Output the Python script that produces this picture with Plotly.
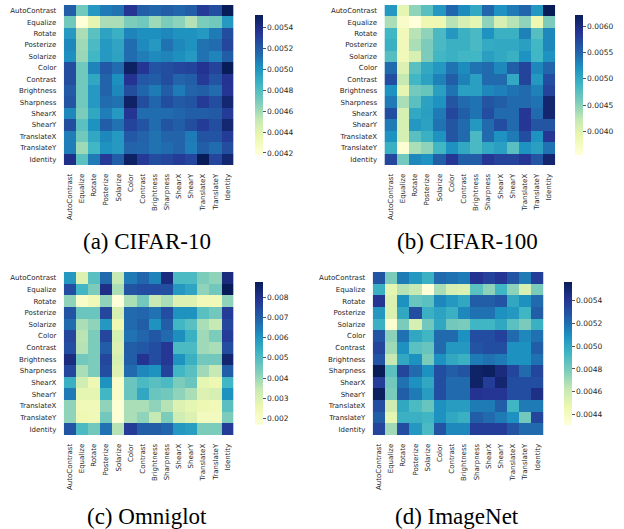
import plotly.graph_objects as go

labels = ["AutoContrast", "Equalize", "Rotate", "Posterize", "Solarize", "Color", "Contrast",
          "Brightness", "Sharpness", "ShearX", "ShearY", "TranslateX", "TranslateY", "Identity"]

# values in units of 1e-3
cifar10 = [
    [5.19,4.72,4.98,5.09,5.12,5.35,5.19,5.16,5.19,5.16,5.19,5.32,5.25,5.52],
    [4.72,4.18,4.38,4.58,4.58,4.69,4.72,4.61,4.69,4.65,4.56,4.69,4.72,4.98],
    [4.98,4.58,4.78,4.94,4.88,5.06,5.02,5.02,5.05,5.01,5.01,4.98,5.09,5.25],
    [5.05,4.61,4.82,4.98,4.93,5.14,5.04,4.98,5.12,5.05,5.01,5.12,5.14,5.28],
    [5.02,4.62,4.85,4.98,4.94,5.14,5.08,5.04,5.06,5.02,4.98,5.12,5.06,5.19],
    [5.25,4.72,5.06,5.21,5.14,5.49,5.35,5.23,5.25,5.28,5.29,5.36,5.29,5.52],
    [5.25,4.72,4.92,5.17,5.02,5.36,5.21,5.19,5.25,5.17,5.19,5.33,5.23,5.36],
    [5.20,4.72,4.98,5.17,5.05,5.25,5.16,5.09,5.19,5.09,5.17,5.19,5.14,5.35],
    [5.23,4.72,4.98,5.14,5.12,5.48,5.25,5.16,5.25,5.20,5.23,5.33,5.25,5.45],
    [5.05,4.69,4.92,5.08,4.98,5.35,5.14,5.14,5.14,5.16,5.19,5.19,5.20,5.32],
    [5.25,4.78,5.01,5.19,5.12,5.29,5.23,5.14,5.23,5.19,5.25,5.32,5.25,5.45],
    [5.08,4.72,4.92,5.05,4.98,5.21,5.17,5.12,5.17,5.17,5.09,5.23,5.23,5.32],
    [5.08,4.61,4.85,5.01,4.98,5.17,5.16,5.12,5.14,5.17,5.08,5.19,5.14,5.25],
    [5.39,4.78,5.09,5.33,5.19,5.49,5.33,5.25,5.28,5.32,5.28,5.52,5.28,5.45],
]

cifar100 = [
    [5.15,3.95,4.48,4.75,5.15,5.49,5.25,5.01,5.49,5.20,5.36,5.49,5.15,6.21],
    [4.35,3.68,3.55,3.87,3.87,4.29,4.08,3.95,4.48,4.08,4.29,4.48,3.87,4.56],
    [4.88,3.82,4.29,4.48,4.83,5.15,4.93,4.83,5.20,4.93,4.93,5.31,4.77,5.28],
    [4.93,3.82,4.35,4.56,4.83,4.93,4.93,4.83,4.99,5.01,5.01,5.09,4.88,5.28],
    [4.77,3.82,4.08,4.56,4.88,4.93,4.88,4.88,5.09,5.01,4.93,5.20,4.88,5.20],
    [5.47,4.03,4.75,5.01,5.15,5.41,5.25,5.41,5.47,5.28,5.55,5.76,5.28,5.49],
    [5.68,4.22,4.88,5.07,5.31,5.55,5.31,5.09,5.47,5.47,5.01,5.76,5.15,5.68],
    [5.20,3.95,4.61,4.67,5.09,5.41,5.09,5.09,5.28,5.33,5.41,5.47,5.31,5.76],
    [5.36,4.35,4.75,5.07,5.20,5.62,5.47,5.41,5.62,5.55,5.47,5.47,5.41,6.08],
    [5.68,4.08,5.01,5.09,5.36,5.73,5.55,5.41,5.68,5.47,5.47,5.86,5.47,6.08],
    [5.36,4.08,5.15,5.07,5.41,5.62,5.47,5.15,5.47,5.68,5.47,5.86,5.62,5.62],
    [5.20,4.08,4.75,4.93,5.20,5.62,5.47,4.83,5.47,5.20,5.36,5.68,5.20,5.86],
    [4.93,3.60,4.35,4.48,4.88,5.20,5.01,4.83,5.01,5.09,4.75,5.20,5.09,5.41],
    [5.73,4.61,5.28,5.20,5.55,5.86,5.55,5.55,5.86,5.76,5.76,5.86,5.62,6.08],
]

omniglot = [
    [5.92,2.95,4.86,6.77,3.45,6.49,6.84,6.35,8.18,5.07,5.07,4.37,4.15,8.18],
    [7.34,5.22,4.37,8.04,3.80,7.19,7.34,7.34,7.34,5.92,5.64,4.15,4.51,8.75],
    [4.15,2.03,2.39,4.15,1.68,3.80,4.51,3.45,3.80,2.95,2.95,2.39,2.39,4.15],
    [7.19,4.65,4.65,7.48,3.09,6.77,6.84,6.63,7.34,6.06,6.06,4.86,4.51,7.69],
    [6.77,3.80,4.15,5.92,2.53,6.77,6.98,6.06,6.98,5.22,4.86,3.80,3.45,7.48],
    [7.48,3.59,4.37,7.48,3.09,6.63,6.84,7.12,6.77,6.13,5.36,3.94,4.37,7.69],
    [7.34,3.66,4.37,6.98,2.95,6.98,7.12,7.34,7.83,5.07,5.07,3.94,3.80,7.34],
    [8.18,4.51,4.37,7.48,3.09,6.98,7.90,7.34,7.83,6.06,5.36,4.51,4.51,8.40],
    [7.48,3.80,4.37,7.34,2.95,6.77,6.28,6.06,7.55,5.22,4.86,3.94,3.45,6.98],
    [5.36,3.24,2.53,6.06,2.03,4.65,5.07,4.86,5.07,4.37,4.65,2.74,2.53,5.22],
    [6.49,2.74,2.74,5.22,2.03,4.65,5.57,4.65,4.51,4.15,3.80,2.95,3.09,6.06],
    [4.15,2.39,2.39,4.15,1.82,3.80,3.80,4.15,3.66,2.95,2.74,2.53,2.39,4.86],
    [4.15,2.53,2.39,4.51,1.82,3.80,4.15,3.45,4.37,3.24,2.95,2.25,2.25,4.37],
    [7.19,5.07,4.51,6.63,3.66,7.69,6.98,6.98,6.84,5.92,5.78,4.37,4.37,7.69],
]

imagenet = [
    [5.29,4.79,5.16,5.06,4.96,5.21,5.19,5.16,5.41,5.35,5.40,5.29,5.16,5.37],
    [4.96,4.50,4.66,4.62,4.31,4.69,4.56,4.54,4.87,4.75,4.94,4.75,4.56,4.79],
    [5.40,4.54,5.09,4.84,4.87,5.12,5.06,5.00,5.25,5.25,5.29,5.00,5.09,5.21],
    [5.06,4.54,5.00,5.31,4.96,5.02,4.96,5.12,5.19,5.19,5.09,5.06,4.94,5.25],
    [4.96,4.34,4.79,4.56,4.81,5.00,4.81,4.79,4.94,4.94,5.00,4.87,4.79,4.96],
    [5.29,4.75,5.19,5.00,4.94,5.21,5.21,5.09,5.31,5.31,5.35,5.21,5.12,5.19],
    [5.34,4.71,5.09,4.87,4.84,5.21,5.06,5.06,5.29,5.31,5.31,5.09,5.09,5.25],
    [5.29,4.62,5.00,5.09,4.79,5.09,5.00,4.96,5.16,5.19,5.16,5.09,5.09,5.19],
    [5.56,4.87,5.34,5.21,5.09,5.31,5.25,5.29,5.52,5.54,5.46,5.34,5.21,5.34],
    [5.37,4.81,5.19,5.09,5.00,5.31,5.21,5.21,5.52,5.37,5.50,5.31,5.31,5.31],
    [5.54,4.79,5.25,5.16,5.04,5.31,5.21,5.21,5.41,5.40,5.40,5.31,5.31,5.44],
    [5.31,4.59,5.00,4.91,4.84,5.09,5.04,5.04,5.16,5.16,5.25,4.94,5.16,5.16],
    [5.25,4.50,4.96,4.96,4.94,5.09,5.00,4.96,5.25,5.21,5.16,5.09,4.81,5.34],
    [5.34,4.71,5.31,5.06,4.91,5.29,5.12,5.12,5.37,5.37,5.37,5.29,5.21,5.21],
]

captions = ["(a) CIFAR-10", "(b) CIFAR-100", "(c) Omniglot", "(d) ImageNet"]
ranges = [(4.18, 5.52), (3.55, 6.21), (1.68, 8.75), (4.31, 5.56)]
cbar_ticks = [
    [0.0042, 0.0044, 0.0046, 0.0048, 0.0050, 0.0052, 0.0054],
    [0.0040, 0.0045, 0.0050, 0.0055, 0.0060],
    [0.002, 0.003, 0.004, 0.005, 0.006, 0.007, 0.008],
    [0.0044, 0.0046, 0.0048, 0.0050, 0.0052, 0.0054],
]
cbar_text = [
    ["0.0042", "0.0044", "0.0046", "0.0048", "0.0050", "0.0052", "0.0054"],
    ["0.0040", "0.0045", "0.0050", "0.0055", "0.0060"],
    ["0.002", "0.003", "0.004", "0.005", "0.006", "0.007", "0.008"],
    ["0.0044", "0.0046", "0.0048", "0.0050", "0.0052", "0.0054"],
]

W, H = 624, 529
YlGnBu = ['rgb(255,255,217)', 'rgb(237,248,177)', 'rgb(199,233,180)', 'rgb(127,205,187)',
          'rgb(65,182,196)', 'rgb(29,145,192)', 'rgb(34,94,168)', 'rgb(37,52,148)', 'rgb(8,29,88)']
cs = [[i / 8, c] for i, c in enumerate(YlGnBu)]

# screen pixel boxes: heatmap x0, x1, y0, y1, colorbar x, caption center x, y
boxes = [
    (65, 238, 5, 165, 250, 150, 242),
    (392, 566, 5, 165, 576, 477, 242),
    (65, 238, 272, 435, 250, 150, 516),
    (380, 554, 272, 435, 565, 466, 516),
]
datasets = [cifar10, cifar100, omniglot, imagenet]
TXT = "#262626"

fig = go.Figure()
layout = dict(width=W, height=H, margin=dict(l=0, r=0, t=0, b=0),
              paper_bgcolor="white", plot_bgcolor="white", template="none",
              font=dict(family="DejaVu Sans", size=7, color=TXT), annotations=[])

def px(x):
    return x / W

def py(y):
    return 1 - y / H

for i, (data, (lo, hi), box) in enumerate(zip(datasets, ranges, boxes)):
    x0, x1, y0, y1, cbx, capx, capy = box
    z = [[v * 1e-3 for v in row] for row in data]
    suffix = "" if i == 0 else str(i + 1)
    fig.add_trace(go.Heatmap(
        z=z, x=labels, y=labels, zmin=lo * 1e-3, zmax=hi * 1e-3, colorscale=cs,
        xaxis="x" + suffix, yaxis="y" + suffix,
        colorbar=dict(x=px(cbx), xanchor="left", xref="paper", y=py((y0 + y1) / 2),
                      yanchor="middle", len=(y1 - y0) / H, lenmode="fraction",
                      thickness=8, outlinewidth=0, ticks="outside", ticklen=3,
                      tickcolor="#555", tickmode="array", tickvals=cbar_ticks[i],
                      ticktext=cbar_text[i],
                      tickfont=dict(size=7.5, color=TXT, family="DejaVu Sans")),
    ))
    layout["xaxis" + suffix] = dict(domain=[px(x0), px(x1)], anchor="y" + suffix,
                                    tickangle=-90, showgrid=False, zeroline=False,
                                    showline=False, ticks="outside", ticklen=5,
                                    tickcolor="rgba(0,0,0,0)", tickfont=dict(size=7))
    layout["yaxis" + suffix] = dict(domain=[py(y1), py(y0)], anchor="x" + suffix,
                                    autorange="reversed", showgrid=False, zeroline=False,
                                    showline=False, ticks="outside", ticklen=5,
                                    tickcolor="rgba(0,0,0,0)", tickfont=dict(size=7))
    layout["annotations"].append(dict(
        text=captions[i], x=px(capx), y=py(capy), xref="paper", yref="paper",
        xanchor="center", yanchor="middle", showarrow=False,
        font=dict(family="Liberation Serif", size=23, color="black")))

fig.update_layout(**layout)
fig.write_html("out.html", config={"displayModeBar": False},
               post_script="document.body.style.margin='0';document.body.style.overflow='hidden';")
